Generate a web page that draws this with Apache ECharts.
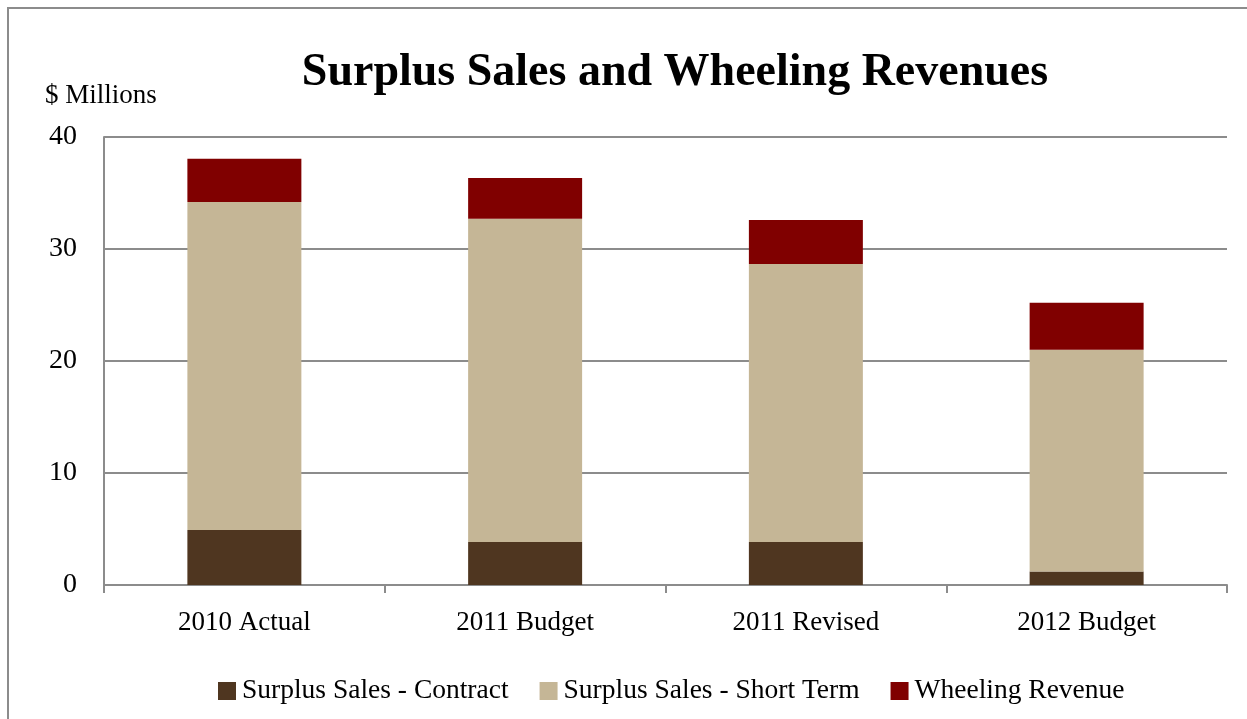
<!DOCTYPE html>
<html>
<head>
<meta charset="utf-8">
<style>
  html, body { margin: 0; padding: 0; background: #ffffff; }
  #chart { width: 1247px; height: 719px; }
</style>
<script src="https://cdn.jsdelivr.net/npm/echarts@6/dist/echarts.min.js"></script>
</head>
<body>
<div id="chart"></div>
<script>
// Revenue components by period, in $ millions
const categories = ['2010 Actual', '2011 Budget', '2011 Revised', '2012 Budget'];
const contractSales = [4.9, 3.85, 3.85, 1.2];
const shortTermSales = [29.3, 28.85, 24.8, 19.8];
const wheelingRevenue = [3.85, 3.65, 3.95, 4.2];
const yTicks = [0, 10, 20, 30, 40];

const FONT = '"Liberation Serif", "DejaVu Serif", serif';
const GRID_COLOR = '#8c8c8c';

const chart = echarts.init(document.getElementById('chart'), null, { renderer: 'canvas' });

function barSeries(name, data, color) {
  return {
    name: name,
    type: 'bar',
    stack: 'revenue',
    data: data,
    barWidth: '40.6%',
    itemStyle: { color: color },
    emphasis: { disabled: true }
  };
}

chart.setOption({
  animation: false,
  backgroundColor: '#ffffff',
  textStyle: { fontFamily: FONT },
  title: [
    {
      text: 'Surplus Sales and Wheeling Revenues',
      left: 670,
      top: 45,
      textAlign: 'center',
      textStyle: { fontFamily: FONT, fontWeight: 'bold', fontSize: 46, color: '#000000' }
    },
    {
      text: '$ Millions',
      left: 40,
      top: 77,
      textStyle: { fontFamily: FONT, fontWeight: 'normal', fontSize: 27, color: '#000000' }
    }
  ],
  graphic: [
    {
      type: 'rect',
      shape: { x: 8, y: 8, width: 1300, height: 800 },
      style: { fill: 'none', stroke: '#8c8c8c', lineWidth: 2 },
      silent: true,
      z: -1
    }
  ],
  legend: {
    left: 213,
    top: 672,
    itemWidth: 18,
    itemHeight: 18,
    itemGap: 31,
    icon: 'rect',
    textStyle: { fontFamily: FONT, fontSize: 27.5, color: '#000000', padding: [0, 0, 0, 1] },
    data: ['Surplus Sales - Contract', 'Surplus Sales - Short Term', 'Wheeling Revenue']
  },
  grid: { left: 104, right: 20, top: 137, bottom: 134, containLabel: false },
  xAxis: {
    type: 'category',
    data: categories,
    boundaryGap: true,
    axisLine: { show: true, lineStyle: { color: GRID_COLOR, width: 2 } },
    axisTick: { show: true, length: 8, alignWithLabel: false, lineStyle: { color: GRID_COLOR, width: 2 } },
    axisLabel: { margin: 24, fontFamily: FONT, fontSize: 27, color: '#000000' }
  },
  yAxis: {
    type: 'value',
    min: yTicks[0],
    max: yTicks[yTicks.length - 1],
    interval: 10,
    axisLine: { show: true, lineStyle: { color: GRID_COLOR, width: 2 } },
    axisTick: { show: false },
    splitLine: { show: true, lineStyle: { color: GRID_COLOR, width: 2 } },
    axisLabel: { margin: 27, fontFamily: FONT, fontSize: 28, color: '#000000' }
  },
  series: [
    barSeries('Surplus Sales - Contract', contractSales, '#4f3620'),
    barSeries('Surplus Sales - Short Term', shortTermSales, '#c5b696'),
    barSeries('Wheeling Revenue', wheelingRevenue, '#800000')
  ]
});
</script>
</body>
</html>
